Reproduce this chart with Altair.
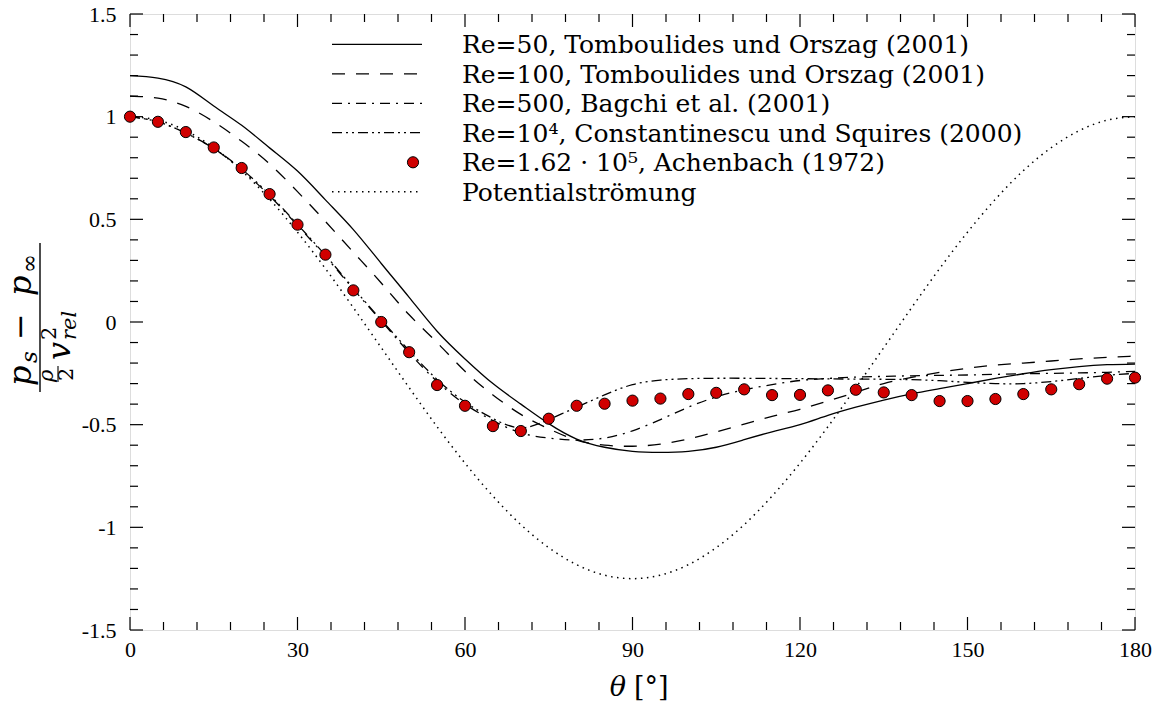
import altair as alt
import pandas as pd

# ---------------- data ----------------
theta = [0, 5, 10, 15, 20, 25, 30, 35, 40, 45, 50, 55, 60, 65, 70, 75, 80, 85, 90,
         95, 100, 105, 110, 115, 120, 125, 130, 135, 140, 145, 150, 155, 160, 165, 170, 175, 180]

re50 = [1.20, 1.188, 1.145, 1.052, 0.958, 0.848, 0.735, 0.595, 0.45, 0.285, 0.12, -0.045, -0.18,
        -0.30, -0.40, -0.495, -0.57, -0.61, -0.63, -0.635, -0.63, -0.61, -0.573, -0.535, -0.50,
        -0.455, -0.415, -0.38, -0.35, -0.325, -0.30, -0.275, -0.252, -0.232, -0.217, -0.208, -0.205]

re100 = [1.10, 1.09, 1.05, 0.975, 0.88, 0.77, 0.635, 0.49, 0.34, 0.19, 0.035, -0.10, -0.24,
         -0.355, -0.45, -0.52, -0.575, -0.60, -0.605, -0.595, -0.57, -0.535, -0.497, -0.46, -0.425,
         -0.385, -0.342, -0.30, -0.27, -0.245, -0.225, -0.21, -0.20, -0.19, -0.18, -0.172, -0.166]

re500 = [1.0, 0.975, 0.92, 0.845, 0.74, 0.615, 0.47, 0.32, 0.16, 0.005, -0.15, -0.29, -0.40,
         -0.48, -0.54, -0.565, -0.575, -0.565, -0.53, -0.475, -0.415, -0.365, -0.33, -0.305,
         -0.285, -0.275, -0.268, -0.265, -0.262, -0.26, -0.258, -0.255, -0.252, -0.25, -0.248,
         -0.245, -0.24]

re1e4 = [1.0, 0.975, 0.92, 0.845, 0.745, 0.62, 0.475, 0.325, 0.165, 0.01, -0.14, -0.28, -0.39,
         -0.47, -0.515, -0.475, -0.415, -0.355, -0.305, -0.283, -0.276, -0.274, -0.274, -0.275,
         -0.276, -0.277, -0.278, -0.279, -0.281, -0.286, -0.294, -0.30, -0.30, -0.29, -0.275,
         -0.26, -0.25]

achenbach = [1.0, 0.975, 0.925, 0.85, 0.75, 0.623, 0.474, 0.328, 0.154, 0.0, -0.147, -0.307,
             -0.408, -0.507, -0.531, -0.471, -0.408, -0.398, -0.383, -0.373, -0.351, -0.345,
             -0.328, -0.356, -0.355, -0.333, -0.33, -0.343, -0.356, -0.385, -0.385, -0.375,
             -0.351, -0.328, -0.303, -0.276, -0.271]

potential = [1.0, 0.983, 0.932, 0.849, 0.737, 0.598, 0.4375, 0.260, 0.070, -0.125, -0.320,
             -0.510, -0.6875, -0.848, -0.987, -1.099, -1.182, -1.233, -1.25, -1.233, -1.182,
             -1.099, -0.987, -0.848, -0.6875, -0.510, -0.320, -0.125, 0.070, 0.260, 0.4375,
             0.598, 0.737, 0.849, 0.932, 0.983, 1.0]

legend_labels = [
    "Re=50, Tomboulides und Orszag (2001)",
    "Re=100, Tomboulides und Orszag (2001)",
    "Re=500, Bagchi et al. (2001)",
    "Re=10\u2074, Constantinescu und Squires (2000)",
    "Re=1.62 \u00b7 10\u2075, Achenbach (1972)",
    "Potentialstr\u00f6mung",
]

x_major = [0, 30, 60, 90, 120, 150, 180]
x_minor = [v for v in range(0, 181, 6) if v % 30 != 0]
y_major = [-1.5, -1.0, -0.5, 0.0, 0.5, 1.0, 1.5]
y_minor = [round(-1.5 + 0.1 * i, 1) for i in range(31) if i % 5 != 0]

# ---------------- layout ----------------
W, H = 1005, 616
LABEL_FONT = "Liberation Serif"
TEXT_FONT = "DejaVu Serif"

xs = alt.Scale(domain=[0, 180], nice=False, zero=False)
ys = alt.Scale(domain=[-1.5, 1.5], nice=False, zero=False)

XAX = alt.Axis(values=x_major, format="d", ticks=False, domain=False, grid=False, title=None,
               labelFont=LABEL_FONT, labelFontSize=22, labelColor="black", labelPadding=9,
               labelFlush=False, labelOverlap=False)
YAX = alt.Axis(values=y_major, labelExpr="toString(datum.value)", ticks=False, domain=False,
               grid=False, title=None, labelFont=LABEL_FONT, labelFontSize=22,
               labelColor="black", labelPadding=14, labelFlush=False, labelOverlap=False)


def X(field):
    return alt.X(field, scale=xs, axis=XAX)


def Y(field):
    return alt.Y(field, scale=ys, axis=YAX)


one = pd.DataFrame({"a": [0]})


def curve(vals, dash=None, width=1.3, interp="natural"):
    df = pd.DataFrame({"theta": theta, "cp": vals})
    kw = dict(color="black", strokeWidth=width, interpolate=interp, clip=True)
    if dash is not None:
        kw["strokeDash"] = dash
    return alt.Chart(df).mark_line(**kw).encode(x=X("theta:Q"), y=Y("cp:Q"))


DASHED = [13, 11]
DASHDOT = [10, 6, 2, 6]
DASHDOTDOT = [10, 4, 2, 4, 2, 4]
DOTTED = [1.5, 4.5]

layers = []

# tick marks, drawn inward on all four sides
for vals, ln in ((x_major, 13), (x_minor, 8)):
    d = pd.DataFrame({"t": vals})
    layers.append(alt.Chart(d).mark_rule(color="black", strokeWidth=1.2).encode(
        x=X("t:Q"), y=alt.value(H), y2=alt.value(H - ln)))
    layers.append(alt.Chart(d).mark_rule(color="black", strokeWidth=1.2).encode(
        x=X("t:Q"), y=alt.value(0), y2=alt.value(ln)))
for vals, ln in ((y_major, 13), (y_minor, 8)):
    d = pd.DataFrame({"t": vals})
    layers.append(alt.Chart(d).mark_rule(color="black", strokeWidth=1.2).encode(
        y=Y("t:Q"), x=alt.value(0), x2=alt.value(ln)))
    layers.append(alt.Chart(d).mark_rule(color="black", strokeWidth=1.2).encode(
        y=Y("t:Q"), x=alt.value(W), x2=alt.value(W - ln)))

# curves
layers.append(curve(potential, DOTTED, 1.5, "monotone"))
layers.append(curve(re50))
layers.append(curve(re100, DASHED))
layers.append(curve(re500, DASHDOT))
layers.append(curve(re1e4, DASHDOTDOT))

pts = pd.DataFrame({"theta": theta, "cp": achenbach})
layers.append(alt.Chart(pts).mark_point(
    filled=True, shape="circle", size=125, fill="#d00000", stroke="black",
    strokeWidth=1, opacity=1, clip=False).encode(x=X("theta:Q"), y=Y("cp:Q")))

# ---------------- legend ----------------
rows = [30.3, 59.8, 89.3, 118.7, 148.3, 177.7]
lx0, lx1 = 202, 292
styles = [None, DASHED, DASHDOT, DASHDOTDOT, "point", DOTTED]
for r, st in zip(rows, styles):
    if st == "point":
        layers.append(alt.Chart(one).mark_point(
            filled=True, shape="circle", size=125, fill="#d00000", stroke="black",
            strokeWidth=1, opacity=1).encode(x=alt.value(283), y=alt.value(r)))
    else:
        kw = dict(color="black", strokeWidth=1.5 if st is DOTTED else 1.3)
        if st is not None:
            kw["strokeDash"] = st
        layers.append(alt.Chart(one).mark_rule(**kw).encode(
            x=alt.value(lx0), x2=alt.value(lx1), y=alt.value(r)))
for r, lab in zip(rows, legend_labels):
    layers.append(alt.Chart(one).mark_text(
        text=lab, align="left", baseline="middle", font=TEXT_FONT, fontSize=25,
        color="black").encode(x=alt.value(332), y=alt.value(r + 1)))


# ---------------- axis titles ----------------
def txt(s, x, y, size, italic=False, angle=None, align="left", baseline="alphabetic"):
    kw = dict(text=s, align=align, baseline=baseline, font=TEXT_FONT, fontSize=size,
              color="black")
    if italic:
        kw["fontStyle"] = "italic"
    if angle is not None:
        kw["angle"] = angle
    return alt.Chart(one).mark_text(**kw).encode(x=alt.value(x), y=alt.value(y))


# x title  theta [deg]
layers.append(txt("\u03b8", 496, 682, 27, italic=True, align="right"))
layers.append(txt("[\u00b0]", 504, 682, 27))

# y title: fraction (p_s - p_inf) / (rho/2 v_rel^2), rotated
X0, Y0 = -130, -14  # absolute -> plot coordinates
NB, SB = 31, 37
layers.append(txt("p", NB + X0, 386 + Y0, 32, italic=True, angle=270))
layers.append(txt("s", SB + X0, 363 + Y0, 23, italic=True, angle=270))
layers.append(txt("\u2212", NB + X0, 340 + Y0, 32, angle=270))
layers.append(txt("p", NB + X0, 296 + Y0, 32, italic=True, angle=270))
layers.append(txt("\u221e", SB + X0, 273 + Y0, 23, angle=270))
layers.append(alt.Chart(one).mark_rule(color="black", strokeWidth=1.4).encode(
    x=alt.value(40 + X0), y=alt.value(243 + Y0), y2=alt.value(392 + Y0)))
layers.append(txt("\u03c1", 53 + X0, 382 + Y0, 21, italic=True, angle=270))
layers.append(alt.Chart(one).mark_rule(color="black", strokeWidth=1.1).encode(
    x=alt.value(58 + X0), y=alt.value(366 + Y0), y2=alt.value(382 + Y0)))
layers.append(txt("2", 73 + X0, 381 + Y0, 21, angle=270))
layers.append(txt("v", 70 + X0, 360 + Y0, 32, italic=True, angle=270))
layers.append(txt("2", 56 + X0, 340 + Y0, 21, angle=270))
layers.append(txt("rel", 76 + X0, 340 + Y0, 21, italic=True, angle=270))

chart = alt.layer(*layers).properties(
    width=W, height=H,
    autosize=alt.AutoSizeParams(type="none"),
    padding={"left": 130, "top": 14, "right": 24, "bottom": 79},
).configure_view(stroke="black", strokeWidth=1.6).configure(background="white")

chart.save("out.html", embed_options={"renderer": "svg", "actions": False})
